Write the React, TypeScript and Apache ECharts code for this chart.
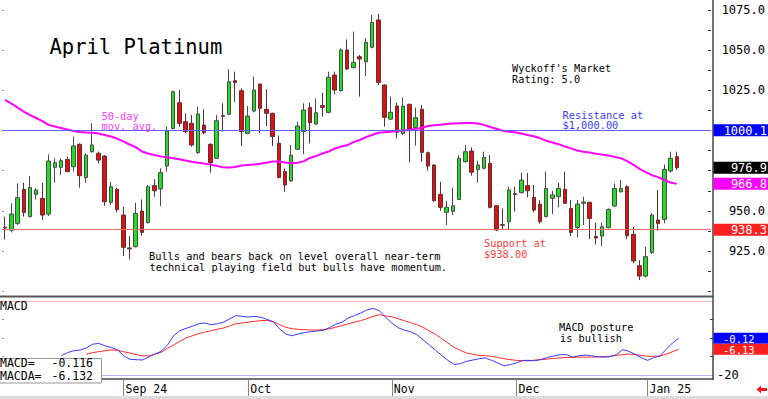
import React, { useEffect, useRef } from "react";
import * as echarts from "echarts";

const MONO = '"DejaVu Sans Mono", "Liberation Mono", monospace';

const dates: string[] = [
  "2024-08-06","2024-08-07","2024-08-08","2024-08-09","2024-08-12","2024-08-13","2024-08-14","2024-08-15","2024-08-16","2024-08-19",
  "2024-08-20","2024-08-21","2024-08-22","2024-08-23","2024-08-26","2024-08-27","2024-08-28","2024-08-29","2024-08-30",
  "2024-09-03","2024-09-04","2024-09-05","2024-09-06","2024-09-09","2024-09-10","2024-09-11","2024-09-12","2024-09-13","2024-09-16",
  "2024-09-17","2024-09-18","2024-09-19","2024-09-20","2024-09-23","2024-09-24","2024-09-25","2024-09-26","2024-09-27","2024-09-30",
  "2024-10-01","2024-10-02","2024-10-03","2024-10-04","2024-10-07","2024-10-08","2024-10-09","2024-10-10","2024-10-11","2024-10-14",
  "2024-10-15","2024-10-16","2024-10-17","2024-10-18","2024-10-21","2024-10-22","2024-10-23","2024-10-24","2024-10-25","2024-10-28",
  "2024-10-29","2024-10-30","2024-10-31",
  "2024-11-01","2024-11-04","2024-11-05","2024-11-06","2024-11-07","2024-11-08","2024-11-11","2024-11-12","2024-11-13","2024-11-14",
  "2024-11-15","2024-11-18","2024-11-19","2024-11-20","2024-11-21","2024-11-22","2024-11-25","2024-11-26","2024-11-27","2024-11-29",
  "2024-12-02","2024-12-03","2024-12-04","2024-12-05","2024-12-06","2024-12-09","2024-12-10","2024-12-11","2024-12-12","2024-12-13",
  "2024-12-16","2024-12-17","2024-12-18","2024-12-19","2024-12-20","2024-12-23","2024-12-24","2024-12-26","2024-12-27","2024-12-30",
  "2024-12-31",
  "2025-01-02","2025-01-03","2025-01-06","2025-01-07","2025-01-08","2025-01-10"
];

const openP: number[] = [
  939.8,938.0,942.2,963.4,946.4,960.3,957.8,948.0,977.1,977.1,
  982.0,977.5,991.4,970.6,986.8,985.8,984.1,955.3,963.4,947.4,
  926.9,927.7,949.9,942.6,965.7,963.6,977.9,1001.3,1017.3,1005.5,
  1004.5,986.2,1003.4,991.4,982.7,1009.4,1010.1,1031.0,1024.8,998.2,
  1012.1,1028.9,1013.2,1010.7,992.0,974.4,968.6,988.3,999.3,1014.4,
  1004.0,1015.6,1011.3,1034.5,1024.8,1050.1,1039.1,1045.9,1042.8,1051.8,
  1068.8,1028.3,1007.1,1015.2,998.2,1016.3,1001.8,1013.2,986.2,978.5,
  960.3,949.1,949.7,957.1,980.6,987.2,975.8,976.5,979.6,953.2,
  941.4,943.2,960.7,961.3,965.7,958.4,954.2,946.4,957.8,958.8,
  963.4,951.5,939.7,954.7,955.3,934.0,934.3,939.5,953.0,961.9,
  965.0,935.4,915.9,909.4,924.0,944.3,944.7,974.8,983.7
];
const closeP: number[] = [
  939.3,948.0,958.2,948.9,964.6,963.0,947.4,981.0,980.0,981.2,
  974.4,990.4,971.9,984.7,991.0,981.6,955.7,965.0,950.9,927.3,
  926.4,948.4,936.6,965.0,962.5,973.8,999.7,1024.2,1004.5,999.3,
  991.0,1010.3,998.6,980.0,1006.1,1008.8,1030.4,1029.8,999.3,1009.0,
  1025.2,1013.8,1010.7,996.2,970.8,966.1,984.7,1002.8,1012.8,1004.9,
  1011.1,1014.4,1033.1,1025.2,1050.1,1038.3,1042.4,1044.5,1054.9,1067.3,
  1030.0,1008.2,1011.3,998.9,1015.2,1000.9,1008.0,986.4,977.9,956.3,
  952.2,952.2,953.2,982.7,986.8,974.0,978.5,983.3,952.2,938.1,
  941.0,963.0,960.1,969.2,962.5,950.5,943.2,964.0,959.9,964.0,
  954.7,936.6,954.2,955.5,945.3,933.1,940.1,950.9,964.0,964.0,
  934.5,918.8,909.4,921.5,947.4,942.2,975.8,982.7,976.9
];
const lowP: number[] = [
  932.2,936.6,941.2,946.4,946.0,957.1,944.3,946.8,967.5,972.3,
  974.0,974.4,964.4,967.5,986.2,979.6,953.2,953.6,949.1,921.9,
  919.8,927.3,934.5,942.2,958.8,953.0,974.4,1000.7,1002.4,998.2,
  989.9,985.4,997.8,973.8,982.3,999.3,1009.6,1017.9,990.4,997.8,
  1011.3,998.6,1002.8,990.4,970.2,961.9,968.1,987.9,985.4,992.0,
  1003.4,1008.6,1010.7,1022.5,1024.2,1037.6,1038.7,1021.1,1033.9,1051.1,
  1028.3,1002.4,1006.5,995.1,997.2,980.2,990.6,980.6,975.0,955.7,
  950.1,941.2,947.4,956.7,980.0,971.9,967.5,975.8,951.5,937.4,
  938.5,938.5,949.5,960.9,958.4,949.1,942.2,946.0,948.0,952.2,
  954.2,934.3,933.5,941.2,932.4,929.1,928.1,939.1,952.6,961.3,
  932.4,917.3,906.9,908.6,923.1,937.6,942.2,973.8,975.4
];
const highP: number[] = [
  946.4,954.7,967.1,967.5,971.7,964.0,967.5,985.2,982.7,982.7,
  983.7,996.2,992.0,985.8,1004.5,986.8,984.7,968.1,964.4,952.6,
  934.3,955.1,957.1,966.1,969.6,976.5,1002.4,1024.8,1025.2,1010.7,
  1009.6,1014.8,1013.2,992.0,1009.6,1016.9,1038.1,1036.6,1026.2,1015.2,
  1033.5,1029.3,1025.6,1011.1,996.8,976.5,991.0,1005.5,1016.9,1017.3,
  1020.0,1023.5,1036.6,1036.6,1051.1,1056.7,1061.5,1047.0,1057.4,1071.9,
  1072.5,1028.7,1021.1,1017.3,1020.6,1016.7,1014.2,1015.9,986.8,979.1,
  968.1,956.1,964.4,984.7,991.0,989.5,981.2,986.8,984.7,953.6,
  951.5,965.0,965.0,973.8,973.5,966.1,956.7,974.4,962.5,967.5,
  974.4,956.7,956.7,958.8,955.7,942.6,942.6,951.5,967.1,969.2,
  965.9,940.1,919.4,927.7,948.4,963.0,978.9,986.8,986.8
];

const ma50: number[] = [
  1019.0,1016.8,1014.3,1011.8,1009.6,1007.8,1005.9,1003.5,1002.5,1001.6,
  1000.6,999.7,999.1,998.8,998.6,998.1,997.2,996.3,995.0,993.2,
  991.3,989.7,986.9,985.7,984.8,983.9,983.3,982.8,982.1,981.3,
  980.5,979.9,979.4,978.8,978.0,977.2,977.0,977.3,978.2,978.5,
  978.8,979.3,979.9,980.7,980.7,980.1,979.6,979.9,980.8,982.9,
  984.1,985.7,986.9,988.8,990.0,990.8,992.8,994.1,995.9,997.2,
  998.6,998.9,999.2,999.7,1000.0,1000.3,1000.9,1001.6,1002.8,1003.3,
  1003.6,1004.0,1004.3,1004.5,1004.6,1004.7,1004.4,1003.5,1002.2,1001.1,
  999.9,999.2,998.9,998.1,997.2,996.4,995.3,993.6,992.5,991.5,
  990.0,988.9,987.5,986.8,986.3,985.6,985.0,984.4,983.6,982.8,
  981.0,978.8,976.2,974.1,972.2,971.0,969.2,967.6,966.8
];

const macd: (number | null)[] = [
  null,null,null,null,null,null,null,null,null,-9.6,
  -7.9,-6.9,-6.5,-5.4,-3.4,-2.9,-4.2,-5.2,-6.3,-9.6,
  -11.5,-11.7,-11.9,-10.3,-8.7,-7.2,-4.0,1.2,3.9,5.2,
  6.3,7.7,8.1,7.2,7.7,8.5,10.3,12.1,11.7,11.3,
  11.7,11.2,10.1,8.8,4.9,2.2,1.2,2.2,2.9,3.4,
  3.8,4.1,5.6,7.4,8.5,10.8,12.1,13.5,15.1,16.0,
  14.8,11.2,8.1,5.6,4.3,3.4,1.8,-0.9,-3.8,-6.5,
  -9.4,-12.1,-14.3,-13.9,-12.6,-11.9,-11.2,-10.8,-12.1,-13.5,
  -15.0,-14.4,-13.5,-12.1,-12.1,-12.3,-11.5,-10.5,-9.7,-9.0,
  -9.0,-10.3,-9.6,-9.2,-9.6,-10.1,-10.3,-10.1,-9.0,-6.3,
  -7.2,-8.8,-10.6,-12.1,-10.6,-9.7,-6.1,-2.7,-0.116
];
const macdAvg: (number | null)[] = [
  null,null,null,null,null,null,null,null,null,null,
  null,null,null,-8.8,-7.9,-7.4,-6.9,-6.5,-6.7,-7.4,
  -8.1,-9.0,-9.6,-9.7,-8.8,-7.8,-5.6,-3.8,-1.8,0.0,
  1.2,2.3,3.2,3.9,4.7,5.4,6.5,7.7,8.1,8.6,
  9.0,9.4,9.5,8.8,7.2,5.8,5.0,4.7,4.5,4.3,
  4.3,4.5,5.0,5.8,6.7,7.7,8.5,9.4,10.4,11.7,
  12.6,11.9,11.5,10.4,9.4,8.3,7.2,5.8,3.8,2.0,
  -0.4,-2.7,-5.1,-6.7,-8.1,-8.8,-9.4,-9.6,-9.9,-10.5,
  -11.2,-11.7,-12.1,-12.3,-12.3,-11.9,-11.7,-11.4,-11.0,-10.8,
  -10.5,-10.5,-10.3,-10.3,-10.3,-10.3,-10.1,-9.9,-9.4,-9.0,
  -8.7,-9.0,-9.4,-9.9,-9.9,-9.7,-8.7,-7.4,-6.132
];

const monthLabels: Record<string, string> = {
  "2024-09": "Sep 24",
  "2024-10": "Oct",
  "2024-11": "Nov",
  "2024-12": "Dec",
  "2025-01": "Jan 25"
};

const resistance = 1000.1;
const support = 938.3;
const padSlots = ["p1", "p2", "p3", "p4", "p5"];

const categories = [...dates, ...padSlots];
const isMonthStart = (i: number) =>
  i > 0 && i < dates.length && dates[i].slice(0, 7) !== dates[i - 1].slice(0, 7) && !!monthLabels[dates[i].slice(0, 7)];

const GREEN = "#1ee01e";
const RED = "#e01010";

export default function App() {
  const ref = useRef<HTMLDivElement>(null);
  useEffect(() => {
    if (!ref.current) return;
    const chart = echarts.init(ref.current, null, { renderer: "svg" });

    const lastIdx = dates.length - 1;
    const lastClose = closeP[lastIdx];
    const lastMA = ma50[lastIdx];
    const lastMacd = macd[lastIdx] as number;
    const lastAvg = macdAvg[lastIdx] as number;
    const tagValues = [resistance, lastClose, lastMA, support];

    const option: any = {
      animation: false,
      backgroundColor: "#ffffff",
      textStyle: { fontFamily: MONO },
      grid: [
        { left: 2, right: 55, top: 10, height: 281.2 },
        { left: 2, right: 55, top: 301, height: 74 }
      ],
      xAxis: [
        { type: "category", gridIndex: 0, data: categories, show: false },
        {
          type: "category",
          gridIndex: 1,
          data: categories,
          offset: 4,
          axisLine: { show: true, onZero: false, lineStyle: { color: "#444", width: 1.5 } },
          axisTick: {
            show: true,
            alignWithLabel: true,
            length: 17,
            interval: (i: number) => isMonthStart(i),
            lineStyle: { color: "#888" }
          },
          axisLabel: {
            interval: (i: number) => isMonthStart(i),
            formatter: (v: string) => monthLabels[v.slice(0, 7)] || "",
            align: "left",
            margin: 4,
            color: "#000",
            fontFamily: MONO,
            fontSize: 11.5,
            padding: [0, 0, 0, 2]
          },
          splitLine: { show: false }
        }
      ],
      yAxis: [
        {
          type: "value", gridIndex: 0, position: "right", min: 900, max: 1075, interval: 12.5,
          axisLine: { show: false },
          axisTick: { show: true, inside: true, length: 3, lineStyle: { color: "#333" } },
          axisLabel: {
            formatter: (v: number) =>
              v % 25 === 0 && v > 900 && !tagValues.some((t) => Math.abs(t - v) < 5) ? v.toFixed(1) : "",
            align: "right", margin: 54, color: "#000", fontFamily: MONO, fontSize: 12
          },
          splitLine: { show: false }
        },
        {
          type: "value", gridIndex: 0, position: "left", min: 900, max: 1075, interval: 25,
          axisLine: { show: false },
          axisTick: { show: true, inside: true, length: 2, lineStyle: { color: "#999" } },
          axisLabel: { show: false },
          splitLine: { show: false }
        },
        {
          type: "value", gridIndex: 1, position: "right", min: -20, max: 20, interval: 10,
          axisLine: { show: false },
          axisTick: { show: true, inside: true, length: 3, lineStyle: { color: "#333" } },
          axisLabel: {
            formatter: (v: number) => (v === -20 ? "-20" : ""),
            align: "left", margin: 4, color: "#000", fontFamily: MONO, fontSize: 12
          },
          splitLine: { show: false }
        },
        {
          type: "value", gridIndex: 1, position: "left", min: -20, max: 20, interval: 10,
          axisLine: { show: false },
          axisTick: { show: true, inside: true, length: 2, lineStyle: { color: "#999" } },
          axisLabel: { show: false },
          splitLine: { show: false }
        }
      ],
      series: [
        {
          type: "candlestick",
          xAxisIndex: 0,
          yAxisIndex: 0,
          barWidth: 4,
          data: dates.map((_, i) => [openP[i], closeP[i], lowP[i], highP[i]]),
          itemStyle: {
            color: GREEN,
            color0: RED,
            borderColor: "#4a4a4a",
            borderColor0: "#5a3030",
            borderWidth: 1
          },
          markLine: {
            silent: true,
            symbol: "none",
            label: { show: false },
            data: [
              { yAxis: resistance, lineStyle: { color: "#6060ff", width: 1, type: "solid" } },
              { yAxis: support, lineStyle: { color: "#ff6a6a", width: 1, type: "solid" } }
            ]
          }
        },
        {
          type: "line",
          xAxisIndex: 0,
          yAxisIndex: 0,
          data: ma50,
          symbol: "none",
          lineStyle: { color: "#ff00ff", width: 2 },
          z: 3
        },
        {
          type: "line",
          xAxisIndex: 1,
          yAxisIndex: 2,
          data: macd,
          symbol: "none",
          lineStyle: { color: "#3a3aff", width: 1 },
          z: 4
        },
        {
          type: "line",
          xAxisIndex: 1,
          yAxisIndex: 2,
          data: macdAvg,
          symbol: "none",
          lineStyle: { color: "#ff2a2a", width: 1 },
          z: 3,
          markLine: {
            silent: true,
            symbol: "none",
            label: { show: false },
            data: [
              { yAxis: 20, lineStyle: { color: "#ffb4b4", width: 1, type: "solid" } },
              { yAxis: -20, lineStyle: { color: "#b4b4ff", width: 1, type: "solid" } }
            ]
          }
        }
      ]
    };
    chart.setOption(option);

    const py = (v: number) => chart.convertToPixel({ yAxisIndex: 0 } as any, v) as unknown as number;
    const my = (v: number) => chart.convertToPixel({ yAxisIndex: 2 } as any, v) as unknown as number;

    const txt = (text: string, x: number, y: number, fill: string, size: number, align = "left", z = 50) => ({
      type: "text",
      z,
      style: { text, x, y, fill, font: `${size}px ${MONO}`, align, verticalAlign: "middle", lineHeight: size }
    });

    const priceTag = (value: number, bg: string, label: string) => {
      const y = py(value);
      return [
        { type: "rect", z: 60, shape: { x: 713.5, y: y - 6, width: 55, height: 12 }, style: { fill: bg } },
        txt(label, 767, y + 0.5, "#ffffff", 12, "right", 61)
      ];
    };
    const macdTag = (value: number, bg: string, label: string) => {
      const y = my(value);
      return [
        { type: "rect", z: 60, shape: { x: 713.5, y: y - 5.5, width: 55, height: 11 }, style: { fill: bg } },
        txt(label, 723, y + 0.5, "#ffffff", 10.5, "left", 61)
      ];
    };

    const graphic: any[] = [
      { type: "line", z: 40, shape: { x1: 0, y1: 296.5, x2: 713, y2: 296.5 }, style: { stroke: "#555", lineWidth: 2 } },
      { type: "line", z: 40, shape: { x1: 713, y1: 0, x2: 713, y2: 380 }, style: { stroke: "#444", lineWidth: 1.5 } },
      { type: "rect", z: 40, shape: { x: 0, y: 396, width: 768, height: 3 }, style: { fill: "#dcdcdc" } },
      txt("April Platinum", 49.5, 47, "#000", 20.5),
      txt("Wyckoff's Market", 512, 68.3, "#000", 10.3),
      txt("Rating: 5.0", 512, 79, "#000", 10.3),
      txt("Resistance at", 562.5, 114.7, "#3c3cff", 10.3),
      txt("$1,000.00", 562.5, 125.2, "#3c3cff", 10.3),
      txt("50-day", 101.5, 115.5, "#ff3cff", 10.3),
      txt("mov. avg.", 101.5, 126, "#ff3cff", 10.3),
      txt("Bulls and bears back on level overall near-term", 149, 255.8, "#000", 10.3),
      txt("technical playing field but bulls have momentum.", 149.5, 266.7, "#000", 10.3),
      txt("Support at", 484, 243, "#ff3c3c", 10.3),
      txt("$938.00", 484, 253.7, "#ff3c3c", 10.3),
      txt("MACD posture", 559, 327.3, "#000", 10.3),
      txt("is bullish", 560, 338, "#000", 10.3),
      txt("MACD", 0, 305.7, "#000", 11.5),
      { type: "rect", z: 70, shape: { x: -1, y: 358.5, width: 102.5, height: 24.5 }, style: { fill: "#fff", stroke: "#999", lineWidth: 1 } },
      txt("MACD=", 0, 362.7, "#000", 11.5, "left", 71),
      txt(lastMacd.toFixed(3), 93, 362.7, "#000", 11.5, "right", 71),
      txt("MACDA=", 0, 375.5, "#000", 11.5, "left", 71),
      txt(lastAvg.toFixed(3), 93, 375.5, "#000", 11.5, "right", 71),
      {
        type: "polygon", z: 40,
        shape: { points: [[756.5, 389.5], [761, 385.5], [761, 388], [767, 388], [767, 391], [761, 391], [761, 393.5]] },
        style: { fill: "#ff1a1a" }
      },
      ...priceTag(resistance, "#0000ff", resistance.toFixed(1)),
      ...priceTag(lastClose, "#000000", lastClose.toFixed(1)),
      ...priceTag(lastMA, "#ff00ff", lastMA.toFixed(1)),
      ...priceTag(support, "#ff2020", support.toFixed(1)),
      ...macdTag(lastMacd, "#0000ff", lastMacd.toFixed(2)),
      ...macdTag(lastAvg, "#ff2020", lastAvg.toFixed(2))
    ];
    chart.setOption({ graphic });

    return () => chart.dispose();
  }, []);
  return (
    <div
      ref={ref}
      style={{ position: "fixed", left: 0, top: 0, width: 768, height: 399, background: "#fff" }}
    />
  );
}
